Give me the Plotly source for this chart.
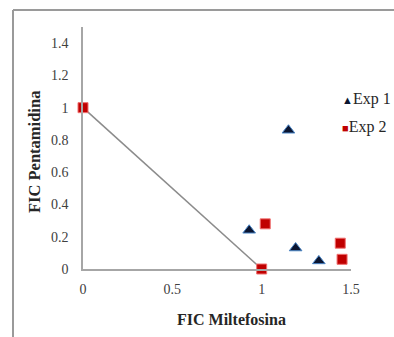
import plotly.graph_objects as go

# Additivity (isobole) line
line_x = [0, 1]
line_y = [1, 0]

# Exp 1 (triangles)
exp1_x = [0.93, 1.15, 1.19, 1.32]
exp1_y = [0.24, 0.86, 0.13, 0.05]

# Exp 2 (squares)
exp2_x = [0, 1, 1.02, 1.44, 1.45]
exp2_y = [1, 0, 0.28, 0.16, 0.06]

x_ticks = [0, 0.5, 1, 1.5]
x_tick_labels = ["0", "0.5", "1", "1.5"]
y_ticks = [0, 0.2, 0.4, 0.6, 0.8, 1, 1.2, 1.4]
y_tick_labels = ["0", "0.2", "0.4", "0.6", "0.8", "1", "1.2", "1.4"]

serif = "Liberation Serif, Times New Roman, serif"
tri_color = "#0B1530"
sq_color = "#C00000"

fig = go.Figure()
fig.add_trace(go.Scatter(x=line_x, y=line_y, mode="lines",
                         line=dict(color="#8C8C8C", width=1.5),
                         showlegend=False, hoverinfo="skip", cliponaxis=False))
fig.add_trace(go.Scatter(x=exp1_x, y=exp1_y, mode="markers", name="Exp 1", cliponaxis=False,
                         marker=dict(symbol="triangle-up", size=11, color=tri_color,
                                     line=dict(color="#4A86C8", width=1))))
fig.add_trace(go.Scatter(x=exp2_x, y=exp2_y, mode="markers", name="Exp 2", cliponaxis=False,
                         marker=dict(symbol="square", size=10, color=sq_color,
                                     line=dict(color="#F07070", width=1))))

W, H = 394, 337
ml, mr, mt, mb = 83, 43, 27, 68
pw, ph = W - ml - mr, H - mt - mb

def px_to_paper_x(px):
    return (px - ml) / pw

def py_to_paper_y(py):
    return (H - mb - py) / ph

fig.update_layout(
    width=W, height=H,
    margin=dict(l=ml, r=mr, t=mt, b=mb, autoexpand=False),
    paper_bgcolor="white", plot_bgcolor="white",
    font=dict(family=serif, size=13, color="#262626"),
    showlegend=False,
    xaxis=dict(range=[0, 1.5], tickvals=x_ticks, ticktext=x_tick_labels, automargin=False,
               showgrid=False, zeroline=False, showline=True, linecolor="#A6A6A6", linewidth=1.5,
               ticks="", ticklabelstandoff=6, tickfont=dict(family=serif, size=14, color="#404040")),
    yaxis=dict(range=[0, 1.5], tickvals=y_ticks, ticktext=y_tick_labels, automargin=False,
               showgrid=False, zeroline=False, showline=True, linecolor="#A6A6A6", linewidth=1.5,
               ticks="", ticklabelstandoff=10, tickfont=dict(family=serif, size=14, color="#404040")),
)

# Axis titles
fig.add_annotation(text="<b>FIC Miltefosina</b>", xref="paper", yref="paper",
                   x=px_to_paper_x(231), y=py_to_paper_y(319), xanchor="center", yanchor="middle",
                   showarrow=False, font=dict(family=serif, size=16, color="#262626"))
fig.add_annotation(text="<b>FIC Pentamidina</b>", xref="paper", yref="paper", textangle=-90,
                   x=px_to_paper_x(34), y=py_to_paper_y(152), xanchor="center", yanchor="middle",
                   showarrow=False, font=dict(family=serif, size=16.5, color="#262626"))

# Legend entries
fig.add_annotation(text=f"<span style='color:{tri_color};font-size:11px'>▲</span>Exp 1",
                   xref="paper", yref="paper", x=px_to_paper_x(340), y=py_to_paper_y(99),
                   xanchor="left", yanchor="middle", showarrow=False,
                   font=dict(family=serif, size=16, color="#262626"))
fig.add_annotation(text=f"<span style='color:{sq_color};font-size:11px'>■</span>Exp 2",
                   xref="paper", yref="paper", x=px_to_paper_x(340), y=py_to_paper_y(127),
                   xanchor="left", yanchor="middle", showarrow=False,
                   font=dict(family=serif, size=16, color="#262626"))

# Outer frame lines (left and top) of the picture
fig.add_shape(type="line", xref="paper", yref="paper",
              x0=px_to_paper_x(13), x1=px_to_paper_x(13),
              y0=py_to_paper_y(10), y1=py_to_paper_y(340),
              line=dict(color="#9A9A9A", width=2))
fig.add_shape(type="line", xref="paper", yref="paper",
              x0=px_to_paper_x(13), x1=px_to_paper_x(400),
              y0=py_to_paper_y(10), y1=py_to_paper_y(10),
              line=dict(color="#9A9A9A", width=2))

fig.write_html("out.html", config={"displayModeBar": False},
               post_script="document.body.style.margin='0';document.body.style.overflow='hidden';")
